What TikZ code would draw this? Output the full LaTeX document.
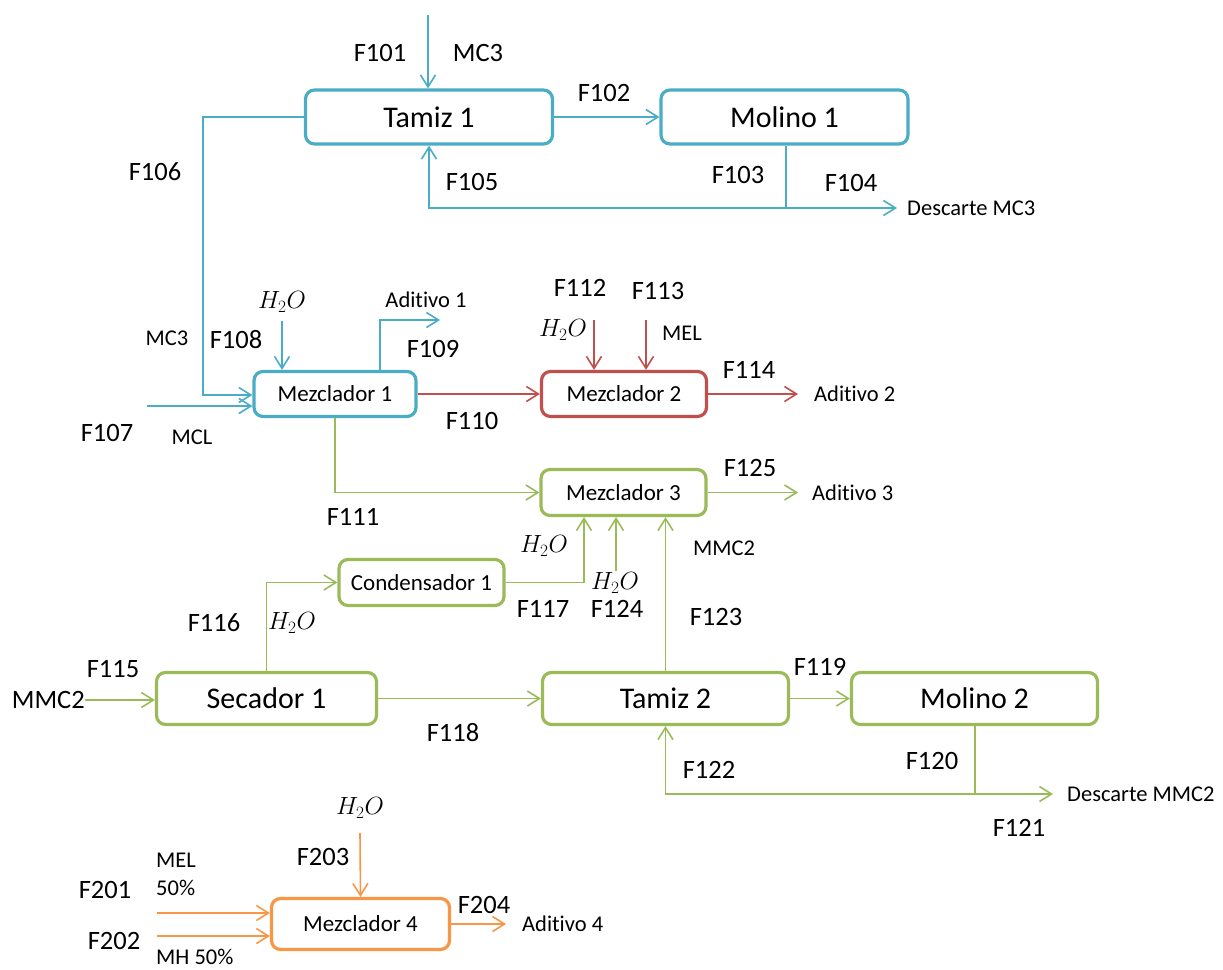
\documentclass[tikz,border=0pt]{standalone}
\usepackage{fontspec}
\setmainfont{Carlito}[Ligatures=NoCommon]
\usetikzlibrary{arrows.meta}
\definecolor{cblue}{HTML}{4BACC6}
\definecolor{cred}{HTML}{C0504D}
\definecolor{cgreen}{HTML}{9BBB59}
\definecolor{corange}{HTML}{F79646}
\begin{document}
\begin{tikzpicture}[x=1pt,y=-1pt,
  unit/.style={draw, fill=white, rounded corners=9pt, line width=3.2pt, inner sep=0pt, align=center},
  bigunit/.style={unit, font=\fontsize{30}{34}\selectfont},
  smallunit/.style={unit, font=\fontsize{23}{27}\selectfont},
  flow/.style={line width=1.6pt, -{Straight Barb[length=12pt,width=15pt,line width=1.6pt]}},
  line/.style={line width=1.6pt},
  flab/.style={font=\fontsize{26.5}{30}\selectfont, inner sep=0pt},
  slab/.style={font=\fontsize{22.5}{26}\selectfont, inner sep=0pt},
  hlab/.style={font=\fontsize{24}{28}\selectfont, inner sep=0pt},
  endlab/.style={font=\fontsize{22.5}{26}\selectfont, anchor=west, inner ysep=0pt}
]
\useasboundingbox (0,0) rectangle (1223,969);

% ---------- process units ----------
\node[bigunit, draw=cblue, minimum width=247pt, minimum height=54pt] (tamiz1) at (429,117) {Tamiz 1};
\node[bigunit, draw=cblue, minimum width=247pt, minimum height=54pt] (molino1) at (784.5,117) {Molino 1};
\node[smallunit, draw=cblue, minimum width=162pt, minimum height=45pt] (mez1) at (335,394) {Mezclador 1};
\node[smallunit, draw=cred, minimum width=165pt, minimum height=45pt] (mez2) at (624,394) {Mezclador 2};
\node[smallunit, draw=cgreen, minimum width=165pt, minimum height=46pt] (mez3) at (623.5,492.5) {Mezclador 3};
\node[smallunit, draw=cgreen, minimum width=165pt, minimum height=46pt] (cond1) at (421.5,582.5) {Condensador 1};
\node[bigunit, draw=cgreen, minimum width=220pt, minimum height=52pt] (sec1) at (266.5,698.5) {Secador 1};
\node[bigunit, draw=cgreen, minimum width=246pt, minimum height=52pt] (tamiz2) at (665.5,698.5) {Tamiz 2};
\node[bigunit, draw=cgreen, minimum width=246pt, minimum height=52pt] (molino2) at (974.5,698.5) {Molino 2};
\node[smallunit, draw=corange, minimum width=178pt, minimum height=51pt] (mez4) at (360.5,924) {Mezclador 4};

% ---------- stream end texts ----------
\node[endlab, inner xsep=10pt] (desc1) at (897,208) {Descarte MC3};
\node[endlab, inner xsep=16pt] (ad2) at (798,394) {Aditivo 2};
\node[endlab, inner xsep=14pt] (ad3) at (798,492.5) {Aditivo 3};
\node[endlab, inner xsep=14pt] (desc2) at (1053,794) {Descarte MMC2};
\node[endlab, inner xsep=16pt] (ad4) at (506,924) {Aditivo 4};
\node[flab, anchor=east] (mmc2in) at (85,700) {MMC2};

% ---------- free stream ends ----------
\coordinate (s101) at (428,15);
\coordinate (j1) at (786,208);
\coordinate (c106) at (203,395);
\coordinate (s107) at (147,406);
\coordinate (s108) at (282,321);
\coordinate (b109) at (380,320);
\coordinate (e109) at (440,320);
\coordinate (s112) at (594,320);
\coordinate (s113) at (646,320);
\coordinate (k117) at (584,582.5);
\coordinate (s124) at (616,571);
\coordinate (j2) at (975,794);
\coordinate (s201) at (157,913);
\coordinate (s202) at (157,936);
\coordinate (s203) at (360,833);

% ---------- blue streams ----------
\begin{scope}[draw=cblue]
\draw[flow] (s101) -- (s101 |- tamiz1.north);
\draw[flow] (tamiz1.east) -- (molino1.west);
\draw[line] (molino1.south -| j1) -- (j1);
\draw[flow] (j1) -| (tamiz1.south);
\draw[flow] (j1) -- (desc1.west);
\draw[flow] (tamiz1.west) -| (c106) -- (c106 -| mez1.west);
\draw[flow] (s107) -- (s107 -| mez1.west);
\draw[flow] (s108) -- (s108 |- mez1.north);
\draw[flow] (b109 |- mez1.north) -- (b109) -- (e109);
\end{scope}

% ---------- red streams ----------
\begin{scope}[draw=cred]
\draw[flow] (mez1.east) -- (mez2.west);
\draw[flow] (s112) -- (s112 |- mez2.north);
\draw[flow] (s113) -- (s113 |- mez2.north);
\draw[flow] (mez2.east) -- (ad2.west);
\end{scope}

% ---------- green streams ----------
\begin{scope}[draw=cgreen]
\draw[flow] (mez1.south) |- (mez3.west);
\draw[flow] (mez3.east) -- (ad3.west);
\draw[flow] (cond1.east) -- (k117) -- (k117 |- mez3.south);
\draw[flow] (s124) -- (s124 |- mez3.south);
\draw[flow] (tamiz2.north) -- (tamiz2.north |- mez3.south);
\draw[flow] (mmc2in.east) -- (mmc2in.east -| sec1.west);
\draw[flow] (sec1.north) |- (cond1.west);
\draw[flow] (sec1.east) -- (tamiz2.west);
\draw[flow] (tamiz2.east) -- (molino2.west);
\draw[line] (molino2.south -| j2) -- (j2);
\draw[flow] (j2) -| (tamiz2.south);
\draw[flow] (j2) -- (desc2.west);
\end{scope}

% ---------- orange streams ----------
\begin{scope}[draw=corange]
\draw[flow] (s201) -- (s201 -| mez4.west);
\draw[flow] (s202) -- (s202 -| mez4.west);
\draw[flow] (s203) -- (mez4.north);
\draw[flow] (mez4.east) -- (ad4.west);
\end{scope}

% ---------- stream labels ----------
\node[flab] (l101) at (380,53) {F101};
\node[flab] (l101m) at (478,53) {MC3};
\node[flab] (l102) at (604,93) {F102};
\node[flab] (l103) at (738,175) {F103};
\node[flab] (l104) at (851,183) {F104};
\node[flab] (l105) at (472,182) {F105};
\node[flab] (l106) at (155,172) {F106};
\node[slab] (l106m) at (167,338) {MC3};
\node[flab] (l108) at (236,340) {F108};
\node[hlab] (l108h) at (282,302) {$H_2O$};
\node[slab] (l109a) at (426,300) {Aditivo 1};
\node[flab] (l109) at (433,349) {F109};
\node[flab] (l107) at (107,433) {F107};
\node[slab] (l107m) at (192,437) {MCL};
\node[flab] (l110) at (472,421) {F110};
\node[flab] (l112) at (580,288) {F112};
\node[flab] (l113) at (658,291) {F113};
\node[hlab] (l112h) at (563,330) {$H_2O$};
\node[slab] (l113m) at (682,333) {MEL};
\node[flab] (l114) at (749,370) {F114};
\node[flab] (l111) at (353,517) {F111};
\node[flab] (l125) at (750,468) {F125};
\node[hlab] (l117h) at (544,546) {$H_2O$};
\node[slab] (l123m) at (724,548) {MMC2};
\node[hlab] (l124h) at (615,583) {$H_2O$};
\node[flab] (l117) at (543,609) {F117};
\node[flab] (l124) at (617,609) {F124};
\node[flab] (l123) at (716,617) {F123};
\node[flab] (l116) at (214,623) {F116};
\node[hlab] (l116h) at (292,623) {$H_2O$};
\node[flab] (l115) at (113,669) {F115};
\node[flab] (l118) at (453,733) {F118};
\node[flab] (l119) at (820,667) {F119};
\node[flab] (l120) at (932,761) {F120};
\node[flab] (l122) at (709,770) {F122};
\node[flab] (l121) at (1019,828) {F121};
\node[hlab] (l203h) at (360,808) {$H_2O$};
\node[flab] (l203) at (323,857) {F203};
\node[slab, anchor=west] (l201m) at (156,860) {MEL};
\node[slab, anchor=west] (l201p) at (156,888) {50\%};
\node[flab] (l201) at (105,890) {F201};
\node[flab] (l202) at (114,941) {F202};
\node[slab, anchor=west] (l202m) at (156,957) {MH 50\%};
\node[flab] (l204) at (484,905) {F204};
\end{tikzpicture}
\end{document}
